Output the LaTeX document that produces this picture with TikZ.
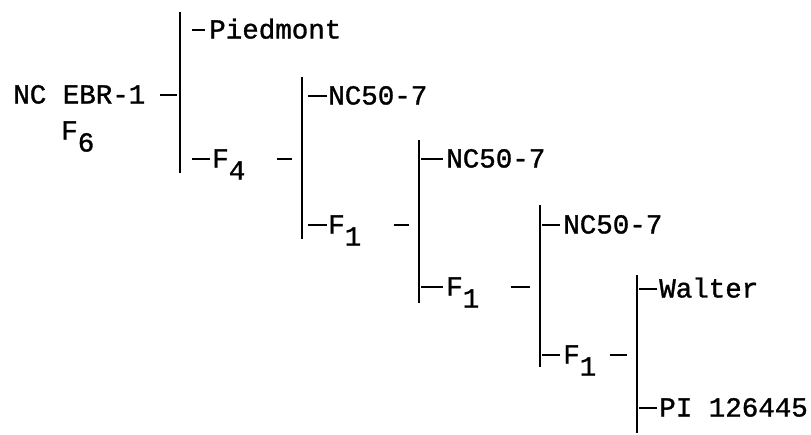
\documentclass[tikz,border=0pt]{standalone}
\usepackage{fontspec}
\setmonofont{Liberation Mono}[FakeBold=1.2]
\newcommand\lowsub[1]{\raisebox{-12pt}{#1}}
\begin{document}
\begin{tikzpicture}[x=1pt,y=-1pt,line width=2.6pt,
    line/.style={anchor=west,inner sep=0pt,text height=17pt,text depth=0pt,
        font=\ttfamily\fontsize{27.5}{30}\selectfont},
    tail/.style={shorten <=#1,shorten >=10pt}]
    \useasboundingbox (0,0) rectangle (811,434);
    % bars
    \coordinate (b1t) at (180,12);  \coordinate (b1b) at (180,173);
    \coordinate (b2t) at (302,77);  \coordinate (b2b) at (302,239);
    \coordinate (b3t) at (419,140); \coordinate (b3b) at (419,303);
    \coordinate (b4t) at (540,205); \coordinate (b4b) at (540,367);
    \coordinate (b5t) at (637,275); \coordinate (b5b) at (637,433);
    \foreach \b in {1,...,5}
        \draw (b\b t) -- (b\b b);
    % names
    \node [line] (ebr) at (12,95) {NC EBR-1};
    \node [line] (f6) at (60,131) {F\lowsub{6}};
    \node [line] (pied) at (208,30) {Piedmont};
    \node [line] (f4) at (211,159) {F\lowsub{4}};
    \node [line] (nca) at (327,96) {NC50-7};
    \node [line] (f1a) at (327,225) {F\lowsub{1}};
    \node [line] (ncb) at (445,159) {NC50-7};
    \node [line] (f1b) at (445,287) {F\lowsub{1}};
    \node [line] (ncc) at (562,225) {NC50-7};
    \node [line] (f1c) at (562,355) {F\lowsub{1}};
    \node [line] (walt) at (658,289) {Walter};
    \node [line] (pi) at (658,408) {PI 126445};
    % dashes into the bars
    \draw [shorten <=13pt,shorten >=3pt] (ebr.east) -- (ebr.east -| b1t);
    \draw [tail=30pt] (f4.east) -- (f4.east -| b2t);
    \draw [tail=31pt] (f1a.east) -- (f1a.east -| b3t);
    \draw [tail=30pt] (f1b.east) -- (f1b.east -| b4t);
    \draw [tail=12pt] (f1c.east) -- (f1c.east -| b5t);
    % dashes out of the bars
    \draw [shorten <=3pt,shorten >=12pt] (pied.west) -- (pied.west -| b1t);
    \draw [shorten <=1pt,shorten >=12pt] (f4.west) -- (f4.west -| b1t);
    \draw [shorten >=6pt] (nca.west) -- (nca.west -| b2t);
    \draw [shorten >=6pt] (f1a.west) -- (f1a.west -| b2t);
    \draw [shorten <=2pt,shorten >=2pt] (ncb.west) -- (ncb.west -| b3t);
    \draw [shorten <=2pt,shorten >=2pt] (f1b.west) -- (f1b.west -| b3t);
    \draw [shorten <=2pt,shorten >=2pt] (ncc.west) -- (ncc.west -| b4t);
    \draw [shorten <=2pt,shorten >=2pt] (f1c.west) -- (f1c.west -| b4t);
    \draw [shorten <=1pt,shorten >=2pt] (walt.west) -- (walt.west -| b5t);
    \draw [shorten <=1pt,shorten >=2pt] (pi.west) -- (pi.west -| b5t);
\end{tikzpicture}
\end{document}
